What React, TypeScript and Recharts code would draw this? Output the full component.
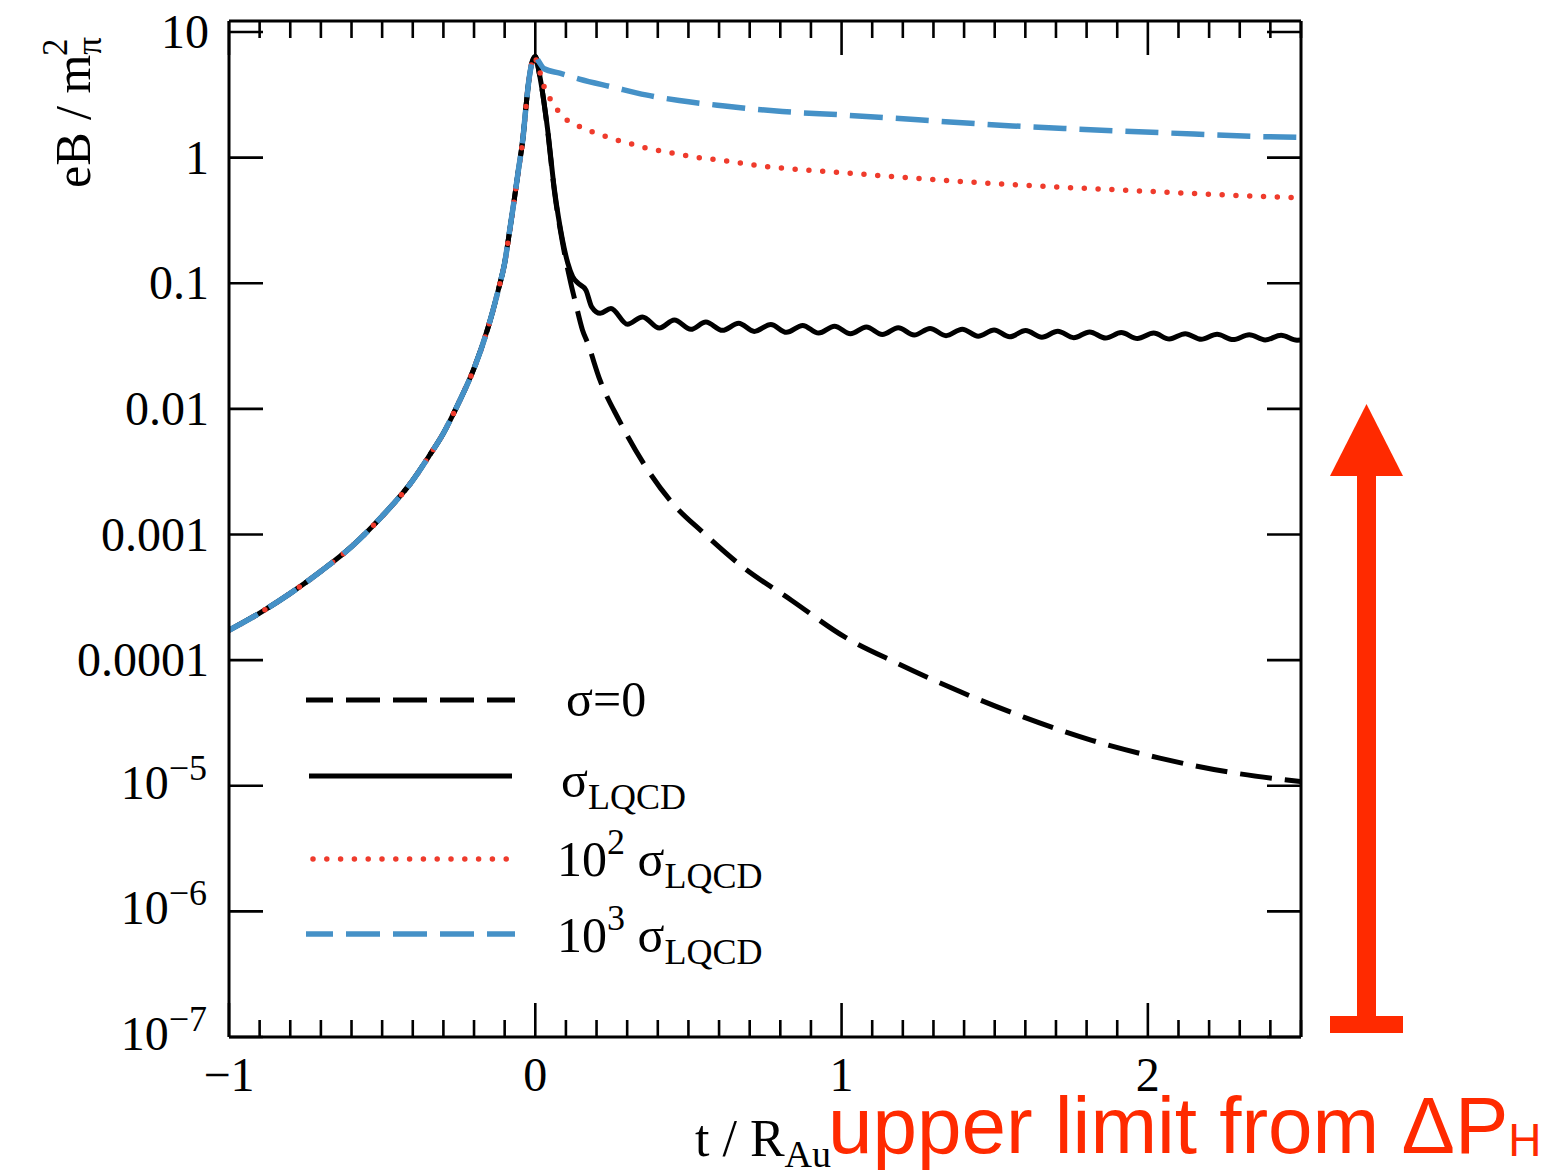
import React from "react";
import { LineChart, Line, XAxis, YAxis } from "recharts";

// shared rise before t = 0 (all four curves coincide there)
const riseT = [-1, -0.9, -0.8, -0.7, -0.6, -0.5, -0.4, -0.35, -0.3, -0.25, -0.2, -0.15, -0.12, -0.1, -0.085, -0.07, -0.055, -0.04, -0.03, -0.02, -0.01, 0];
const riseB = [1.73e-4, 2.37e-4, 3.4e-4, 5.1e-4, 8.0e-4, 1.4e-3, 2.7e-3, 4.1e-3, 6.4e-3, 0.0112, 0.021, 0.048, 0.09, 0.145, 0.25, 0.44, 0.8, 1.45, 2.6, 4.3, 5.8, 6.4];

// sigma = 0
const sigma0T = [0.013, 0.04, 0.062, 0.089, 0.116, 0.132, 0.154, 0.171, 0.211, 0.274, 0.353, 0.44, 0.551, 0.678, 0.836, 1.01, 1.184, 1.39, 1.595, 1.817, 2.039, 2.26, 2.5];
const sigma0B = [4.7, 1.66, 0.55, 0.21, 0.1, 0.069, 0.0425, 0.0334, 0.017, 0.0081, 0.0037, 0.00187, 0.00102, 0.00055, 0.0003, 0.000153, 0.000094, 0.0000557, 0.0000352, 0.000023, 0.0000166, 0.0000129, 0.0000108];

// sigma_LQCD (wiggly)
const lqcdT = [0.013, 0.04, 0.062, 0.089, 0.106, 0.122, 0.14, 0.165, 0.184, 0.212, 0.247, 0.301, 0.35, 0.405, 0.454, 0.508, 0.557, 0.611, 0.664, 0.715, 0.769, 0.82, 0.873, 0.925, 0.977, 1.029, 1.081, 1.133, 1.185, 1.237, 1.289, 1.341, 1.394, 1.446, 1.498, 1.549, 1.601, 1.654, 1.706, 1.758, 1.81, 1.862, 1.913, 1.966, 2.019, 2.07, 2.122, 2.174, 2.226, 2.278, 2.331, 2.383, 2.435, 2.487, 2.5];
const lqcdB = [4.7, 1.7, 0.57, 0.22, 0.145, 0.113, 0.1, 0.0885, 0.065, 0.0577, 0.063, 0.0472, 0.054, 0.044, 0.051, 0.043, 0.0492, 0.0422, 0.048, 0.0414, 0.047, 0.0407, 0.0462, 0.0401, 0.0455, 0.0396, 0.0449, 0.0391, 0.0443, 0.0387, 0.0437, 0.0383, 0.0431, 0.0379, 0.0425, 0.0375, 0.042, 0.0372, 0.0415, 0.0369, 0.041, 0.0366, 0.0405, 0.0363, 0.0401, 0.036, 0.0397, 0.0358, 0.0393, 0.0356, 0.0389, 0.0354, 0.0385, 0.0352, 0.0353];

// 10^2 sigma_LQCD
const s100T = [0.004, 0.015, 0.03, 0.05, 0.075, 0.105, 0.147, 0.187, 0.231, 0.272, 0.316, 0.359, 0.446, 0.535, 0.622, 0.753, 0.845, 1.0, 1.19, 1.515, 1.95, 2.45, 2.5];
const s100B = [5.8, 4.8, 3.6, 2.9, 2.35, 1.98, 1.76, 1.6, 1.47, 1.37, 1.28, 1.2, 1.09, 1.0, 0.943, 0.85, 0.81, 0.76, 0.7, 0.618, 0.547, 0.484, 0.48];

// 10^3 sigma_LQCD
const s1000T = [0.01, 0.029, 0.08, 0.144, 0.252, 0.361, 0.47, 0.611, 0.807, 1.0, 1.25, 1.558, 1.765, 2.07, 2.375, 2.5];
const s1000B = [5.9, 5.1, 4.7, 4.22, 3.65, 3.16, 2.85, 2.59, 2.33, 2.19, 2.0, 1.79, 1.69, 1.57, 1.47, 1.45];

const xTicks = [-1, -0.9, -0.8, -0.7, -0.6, -0.5, -0.4, -0.3, -0.2, -0.1, 0, 0.1, 0.2, 0.3, 0.4, 0.5, 0.6, 0.7, 0.8, 0.9, 1, 1.1, 1.2, 1.3, 1.4, 1.5, 1.6, 1.7, 1.8, 1.9, 2, 2.1, 2.2, 2.3, 2.4, 2.5];
const xLabels: Record<string, string> = { "-1": "\u22121", "0": "0", "1": "1", "2": "2" };
const yTicks = [1e-7, 1e-6, 1e-5, 1e-4, 1e-3, 0.01, 0.1, 1, 10];
const yLabels = ["10|\u22127", "10|\u22126", "10|\u22125", "0.0001", "0.001", "0.01", "0.1", "1", "10"];

const toPts = (ts: number[], bs: number[]) => ts.map((t, i) => ({ t, b: bs[i] }));

const sigma0Data = toPts([...riseT, ...sigma0T], [...riseB, ...sigma0B]);
const lqcdData = toPts([...riseT, ...lqcdT], [...riseB, ...lqcdB]);
const s100Data = toPts([...riseT, ...s100T], [...riseB, ...s100B]);
const s1000Data = toPts([...riseT, ...s1000T], [...riseB, ...s1000B]);

const SERIF = "'Liberation Serif', 'Times New Roman', serif";
const RED = "#ff2a00";
const DOT_RED = "#ef3b2c";
const BLUE = "#4591c7";
const MAJOR = 34;
const MINOR = 17;
const TW = 2.6;

const isMajor = (v: number) => Math.abs(v - Math.round(v)) < 1e-6;

const BottomTick = ({ x, y, payload }: any) => {
  const v = payload.value;
  const major = isMajor(v);
  return (
    <g>
      <line x1={x} x2={x} y1={y} y2={y - (major ? MAJOR : MINOR)} stroke="#000" strokeWidth={TW} />
      {major && (
        <text x={x} y={y + 54} textAnchor="middle" fontSize={48} fontFamily={SERIF} fill="#000">
          {xLabels[String(Math.round(v))]}
        </text>
      )}
    </g>
  );
};

const TopTick = ({ x, y, payload }: any) => {
  const major = isMajor(payload.value);
  return <line x1={x} x2={x} y1={y} y2={y + (major ? MAJOR : MINOR)} stroke="#000" strokeWidth={TW} />;
};

const LeftTick = ({ x, y, payload }: any) => {
  const idx = yTicks.findIndex((t) => Math.abs(Math.log10(t) - Math.log10(payload.value)) < 1e-6);
  const lab = yLabels[idx] || "";
  const parts = lab.split("|");
  return (
    <g>
      <line x1={x} x2={x + MAJOR} y1={y} y2={y} stroke="#000" strokeWidth={TW} />
      {parts.length === 2 ? (
        <text x={x - 22} y={y + 13} textAnchor="end" fontSize={48} fontFamily={SERIF} fill="#000">
          {parts[0]}
          <tspan fontSize={36} dy={-19}>{parts[1]}</tspan>
        </text>
      ) : (
        <text x={x - 20} y={y + 16} textAnchor="end" fontSize={48} fontFamily={SERIF} fill="#000">
          {lab}
        </text>
      )}
    </g>
  );
};

const RightTick = ({ x, y }: any) => (
  <line x1={x} x2={x - MAJOR} y1={y} y2={y} stroke="#000" strokeWidth={TW} />
);

const Overlay = () => (
  <svg width={1542} height={1174} style={{ position: "absolute", left: 0, top: 0, pointerEvents: "none" }}>
    {/* axis titles */}
    <text transform="translate(90,188) rotate(-90)" fontSize={50} fontFamily={SERIF} fill="#000">
      eB / m
      <tspan fontSize={35} dy={11}>π</tspan>
      <tspan fontSize={35} dx={-19} dy={-34}>2</tspan>
    </text>
    <text x={695} y={1156} fontSize={52} fontFamily={SERIF} fill="#000">
      t / R<tspan fontSize={38} dy={11}>Au</tspan>
    </text>

    {/* legend */}
    <line x1={306} x2={515} y1={700} y2={700} stroke="#000" strokeWidth={5} strokeDasharray="34 13" strokeDashoffset={7} />
    <text x={566} y={716} fontSize={50} fontFamily={SERIF} fill="#000">σ=0</text>
    <line x1={309} x2={512} y1={776} y2={776} stroke="#000" strokeWidth={5} />
    <text x={561} y={797} fontSize={50} fontFamily={SERIF} fill="#000">
      σ<tspan fontSize={36} dy={12}>LQCD</tspan>
    </text>
    <line x1={313} x2={508} y1={859} y2={859} stroke={DOT_RED} strokeWidth={5.5} strokeDasharray="0 13.8" strokeLinecap="round" />
    <text x={557} y={876} fontSize={50} fontFamily={SERIF} fill="#000">
      10<tspan fontSize={36} dy={-22}>2</tspan>
      <tspan dy={22}> σ</tspan>
      <tspan fontSize={36} dy={12}>LQCD</tspan>
    </text>
    <line x1={306} x2={515} y1={934} y2={934} stroke={BLUE} strokeWidth={5.5} strokeDasharray="34 13" strokeDashoffset={7} />
    <text x={557} y={952} fontSize={50} fontFamily={SERIF} fill="#000">
      10<tspan fontSize={36} dy={-22}>3</tspan>
      <tspan dy={22}> σ</tspan>
      <tspan fontSize={36} dy={12}>LQCD</tspan>
    </text>

    {/* upper limit arrow */}
    <polygon points="1366.5,404 1330,476 1403,476" fill={RED} />
    <rect x={1357} y={475} width={19} height={542} fill={RED} />
    <rect x={1330} y={1016} width={73} height={17} fill={RED} />
    <text x={828} y={1153} fontSize={80} fontFamily="'Liberation Sans', Arial, sans-serif" fill={RED}>
      upper limit from ΔP<tspan fontSize={46} dy={3}>H</tspan>
    </text>
  </svg>
);

export default function App() {
  return (
    <div style={{ position: "absolute", left: 0, top: 0, width: 1542, height: 1174, background: "#fff", overflow: "hidden" }}>
      <LineChart width={1542} height={1174} margin={{ top: 20, right: 240, bottom: 136, left: 228 }}>
        <XAxis
          xAxisId="bottom"
          dataKey="t"
          type="number"
          domain={[-1, 2.5]}
          ticks={xTicks}
          interval={0}
          height={1}
          tickSize={0}
          tickMargin={0}
          axisLine={{ stroke: "#000", strokeWidth: 3 }}
          tick={<BottomTick />}
          allowDataOverflow
        />
        <XAxis
          xAxisId="top"
          orientation="top"
          dataKey="t"
          type="number"
          domain={[-1, 2.5]}
          ticks={xTicks}
          interval={0}
          height={1}
          tickSize={0}
          tickMargin={0}
          axisLine={{ stroke: "#000", strokeWidth: 3 }}
          tick={<TopTick />}
          allowDataOverflow
        />
        <YAxis
          yAxisId="left"
          type="number"
          scale="log"
          domain={[1e-7, 12.24]}
          ticks={yTicks}
          interval={0}
          width={1}
          tickSize={0}
          tickMargin={0}
          axisLine={{ stroke: "#000", strokeWidth: 3 }}
          tick={<LeftTick />}
          allowDataOverflow
        />
        <YAxis
          yAxisId="right"
          orientation="right"
          type="number"
          scale="log"
          domain={[1e-7, 12.24]}
          ticks={yTicks}
          interval={0}
          width={1}
          tickSize={0}
          tickMargin={0}
          axisLine={{ stroke: "#000", strokeWidth: 3 }}
          tick={<RightTick />}
          allowDataOverflow
        />
        <Line
          xAxisId="bottom"
          yAxisId="left"
          data={sigma0Data}
          dataKey="b"
          type="monotone"
          stroke="#000"
          strokeWidth={5}
          strokeDasharray="32 13"
          dot={false}
          activeDot={false}
          isAnimationActive={false}
        />
        <Line
          xAxisId="bottom"
          yAxisId="left"
          data={lqcdData}
          dataKey="b"
          type="monotone"
          stroke="#000"
          strokeWidth={5}
          dot={false}
          activeDot={false}
          isAnimationActive={false}
        />
        <Line
          xAxisId="bottom"
          yAxisId="left"
          data={s100Data}
          dataKey="b"
          type="monotone"
          stroke={DOT_RED}
          strokeWidth={5.5}
          strokeDasharray="0 13.8"
          strokeLinecap="round"
          dot={false}
          activeDot={false}
          isAnimationActive={false}
        />
        <Line
          xAxisId="bottom"
          yAxisId="left"
          data={s1000Data}
          dataKey="b"
          type="monotone"
          stroke={BLUE}
          strokeWidth={5.5}
          strokeDasharray="33 13"
          dot={false}
          activeDot={false}
          isAnimationActive={false}
        />
      </LineChart>
      <Overlay />
    </div>
  );
}
